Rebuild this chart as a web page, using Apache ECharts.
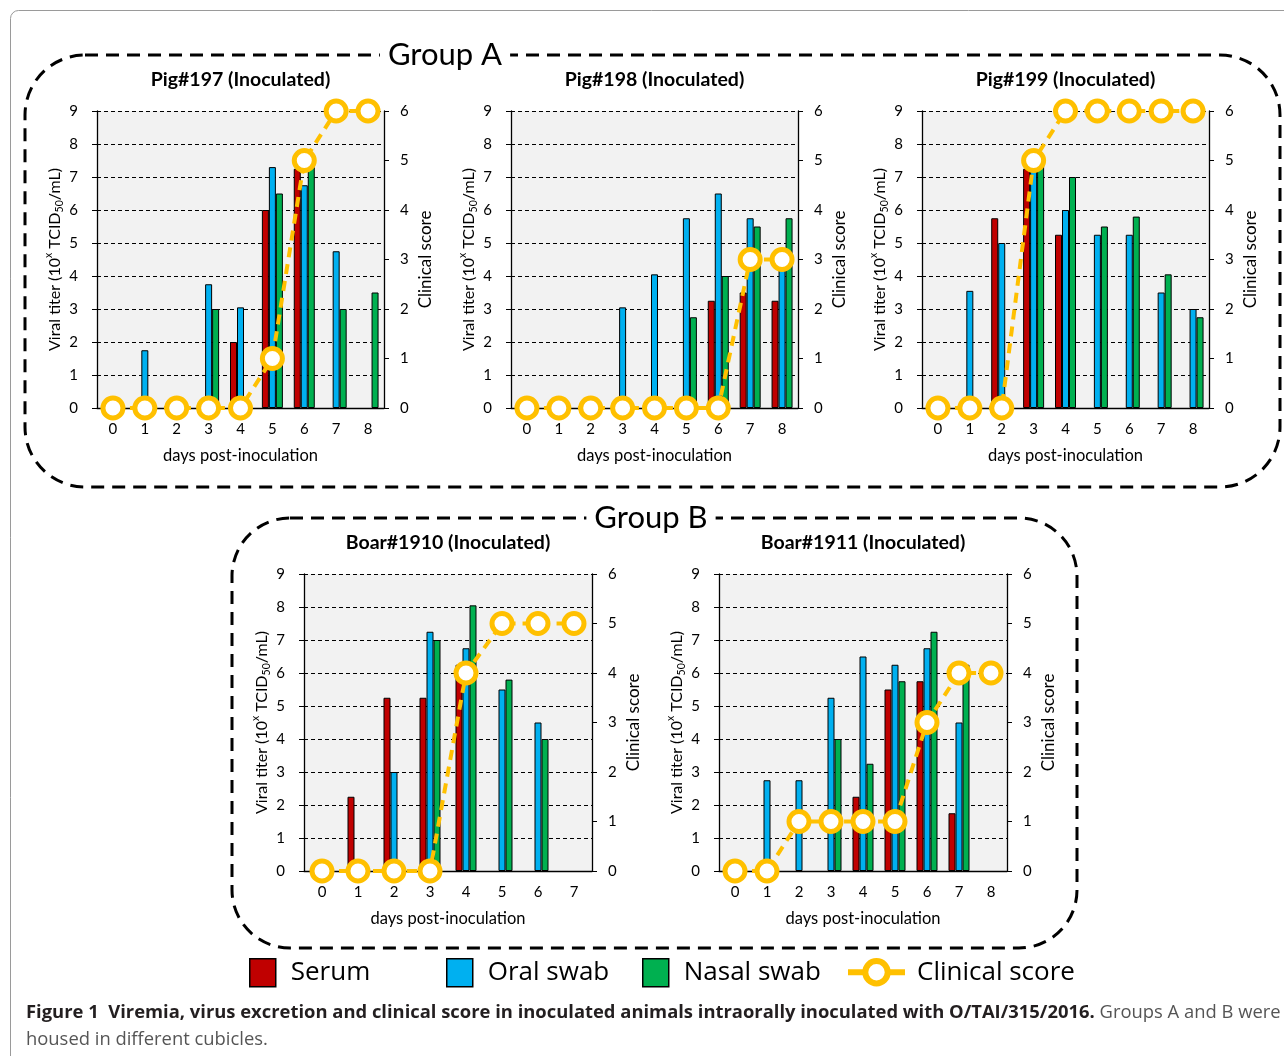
<!DOCTYPE html>
<html>
<head>
<meta charset="utf-8">
<script src="https://cdn.jsdelivr.net/npm/echarts@6/dist/echarts.min.js"></script>
<style>
  html, body { margin: 0; padding: 0; background: #fff; }
  #chart { width: 1284px; height: 1056px; }
</style>
</head>
<body>
<div id="chart"></div>
<script>
// Days post-inoculation (category axes)
const days0to8 = ['0', '1', '2', '3', '4', '5', '6', '7', '8'];
const days0to7 = ['0', '1', '2', '3', '4', '5', '6', '7'];

// Axis ranges: viral titer (log10 TCID50/mL) and clinical score
const titerMax = 9;
const scoreMax = 6;

// Pig#197
const pig197Serum = [0, 0, 0, 0, 2, 6, 7.25, 0, 0];
const pig197Oral  = [0, 1.75, 0, 3.75, 3.05, 7.3, 6.75, 4.75, 0];
const pig197Nasal = [0, 0, 0, 3, 0, 6.5, 7.3, 3, 3.5];
const pig197Score = [0, 0, 0, 0, 0, 1, 5, 6, 6];

// Pig#198
const pig198Serum = [0, 0, 0, 0, 0, 0, 3.25, 3.5, 3.25];
const pig198Oral  = [0, 0, 0, 3.05, 4.05, 5.75, 6.5, 5.75, 4.5];
const pig198Nasal = [0, 0, 0, 0, 0, 2.75, 4, 5.5, 5.75];
const pig198Score = [0, 0, 0, 0, 0, 0, 0, 3, 3];

// Pig#199
const pig199Serum = [0, 0, 5.75, 7.25, 5.25, 0, 0, 0, 0];
const pig199Oral  = [0, 3.55, 5, 7.8, 6, 5.25, 5.25, 3.5, 3];
const pig199Nasal = [0, 0, 0, 7.5, 7, 5.5, 5.8, 4.05, 2.75];
const pig199Score = [0, 0, 0, 5, 6, 6, 6, 6, 6];

// Boar#1910
const boar1910Serum = [0, 2.25, 5.25, 5.25, 6.25, 0, 0, 0];
const boar1910Oral  = [0, 0, 3, 7.25, 6.75, 5.5, 4.5, 0];
const boar1910Nasal = [0, 0, 0, 7, 8.05, 5.8, 4, 0];
const boar1910Score = [0, 0, 0, 0, 4, 5, 5, 5];

// Boar#1911
const boar1911Serum = [0, 0, 0, 0, 2.25, 5.5, 5.75, 1.75, 0];
const boar1911Oral  = [0, 2.75, 2.75, 5.25, 6.5, 6.25, 6.75, 4.5, 0];
const boar1911Nasal = [0, 0, 0, 4, 3.25, 5.75, 7.25, 6.25, 0];
const boar1911Score = [0, 0, 1, 1, 1, 1, 3, 4, 4];

const FONT = 'Lato, "Open Sans", sans-serif';
const FONT_WIDE = '"Open Sans", "Noto Sans", sans-serif';
const C_SERUM = '#C00000', C_ORAL = '#00B0F0', C_NASAL = '#00B050', C_SCORE = '#FFC000';

const panels = [
  { title: 'Pig#197 (Inoculated)', days: days0to8, serum: pig197Serum, oral: pig197Oral, nasal: pig197Nasal, score: pig197Score,
    box: { left: 97, top: 111, width: 287, height: 297 } },
  { title: 'Pig#198 (Inoculated)', days: days0to8, serum: pig198Serum, oral: pig198Oral, nasal: pig198Nasal, score: pig198Score,
    box: { left: 511, top: 111, width: 287, height: 297 } },
  { title: 'Pig#199 (Inoculated)', days: days0to8, serum: pig199Serum, oral: pig199Oral, nasal: pig199Nasal, score: pig199Score,
    box: { left: 922, top: 111, width: 287, height: 297 } },
  { title: 'Boar#1910 (Inoculated)', days: days0to7, serum: boar1910Serum, oral: boar1910Oral, nasal: boar1910Nasal, score: boar1910Score,
    box: { left: 304, top: 574, width: 288, height: 297 } },
  { title: 'Boar#1911 (Inoculated)', days: days0to8, serum: boar1911Serum, oral: boar1911Oral, nasal: boar1911Nasal, score: boar1911Score,
    box: { left: 719, top: 574, width: 288, height: 297 } }
];

const grid = [], xAxis = [], yAxis = [], series = [], graphic = [];
const axisText = { color: '#000', fontFamily: FONT };
const blackLine = { color: '#000', width: 1.3 };
const noBar = v => (v === 0 ? '-' : v);

panels.forEach((p, i) => {
  grid.push(Object.assign({ show: true, backgroundColor: '#F2F2F2', borderWidth: 0 }, p.box));

  xAxis.push({
    gridIndex: i, type: 'category', data: p.days,
    name: 'days post-inoculation', nameLocation: 'middle', nameGap: 39,
    nameTextStyle: Object.assign({ fontSize: 16.5 }, axisText),
    axisLine: { lineStyle: blackLine },
    axisTick: { length: 5, lineStyle: { color: '#000' } },
    axisLabel: Object.assign({ fontSize: 15, margin: 14 }, axisText)
  });

  yAxis.push({
    gridIndex: i, type: 'value', position: 'left', min: 0, max: titerMax, interval: 1,
    name: 'Viral titer (10{sup|x} TCID{sub|50}/mL)', nameLocation: 'middle', nameRotate: 90, nameGap: 30,
    nameTextStyle: Object.assign({
      fontSize: 16, lineHeight: 22,
      rich: {
        sup: { fontSize: 10.5, verticalAlign: 'top', lineHeight: 10, color: '#000', fontFamily: FONT },
        sub: { fontSize: 10.5, verticalAlign: 'bottom', lineHeight: 10, color: '#000', fontFamily: FONT }
      }
    }, axisText),
    axisLine: { show: true, lineStyle: blackLine },
    axisTick: { show: true, length: 5, lineStyle: { color: '#000' } },
    axisLabel: Object.assign({ fontSize: 15, margin: 19 }, axisText),
    splitLine: { show: true, lineStyle: { color: '#000', width: 1, type: [4, 3] } }
  });

  yAxis.push({
    gridIndex: i, type: 'value', position: 'right', min: 0, max: scoreMax, interval: 1,
    name: 'Clinical score', nameLocation: 'middle', nameRotate: 90, nameGap: 33,
    nameTextStyle: Object.assign({ fontSize: 17 }, axisText),
    axisLine: { show: true, lineStyle: blackLine },
    axisTick: { show: true, length: 5, lineStyle: { color: '#000' } },
    axisLabel: Object.assign({ fontSize: 15, margin: 16 }, axisText),
    splitLine: { show: false }
  });

  const barBase = { type: 'bar', xAxisIndex: i, yAxisIndex: 2 * i, barWidth: 7, barGap: '0%' };
  series.push(Object.assign({ name: 'Serum', data: p.serum.map(noBar),
    itemStyle: { color: C_SERUM, borderColor: '#000', borderWidth: 1 } }, barBase));
  series.push(Object.assign({ name: 'Oral swab', data: p.oral.map(noBar),
    itemStyle: { color: C_ORAL, borderColor: '#000', borderWidth: 1 } }, barBase));
  series.push(Object.assign({ name: 'Nasal swab', data: p.nasal.map(noBar),
    itemStyle: { color: C_NASAL, borderColor: '#000', borderWidth: 1 } }, barBase));
  series.push({
    type: 'line', name: 'Clinical score', xAxisIndex: i, yAxisIndex: 2 * i + 1, data: p.score,
    symbol: 'circle', symbolSize: 20, clip: false, z: 5,
    lineStyle: { color: C_SCORE, width: 4, type: [10, 7] },
    itemStyle: { color: '#fff', borderColor: C_SCORE, borderWidth: 5 }
  });

  graphic.push({
    type: 'text', x: p.box.left + p.box.width / 2, y: p.box.top - 31, z: 10,
    style: { text: p.title, font: 'bold 19.5px ' + FONT, fill: '#000', textAlign: 'center', textVerticalAlign: 'middle' }
  });
});

// Frame around the figure
graphic.push({
  type: 'rect', z: 0, silent: true,
  shape: { x: 10.5, y: 10.5, width: 1300, height: 1100, r: 8 },
  style: { fill: 'none', stroke: '#9a9a9a', lineWidth: 1 }
});

// Dashed group enclosures with their headings
const groups = [
  { label: 'Group A', x: 25, y: 55, w: 1255, h: 432, r: 60, cx: 445 },
  { label: 'Group B', x: 232, y: 518, w: 845, h: 430, r: 58, cx: 651 }
];
groups.forEach(g => {
  graphic.push({
    type: 'rect', z: 1, silent: true,
    shape: { x: g.x, y: g.y, width: g.w, height: g.h, r: g.r },
    style: { fill: 'none', stroke: '#000', lineWidth: 3, lineDash: [13, 8] }
  });
  graphic.push({
    type: 'text', x: g.cx, y: g.y, z: 2,
    style: {
      text: g.label, font: '31px ' + FONT, fill: '#000', textAlign: 'center', textVerticalAlign: 'middle',
      backgroundColor: '#fff', padding: [0, 8]
    }
  });
});

// Caption
graphic.push({
  type: 'text', left: 26, top: 1004, z: 2,
  style: {
    text: '{b|Figure 1  Viremia, virus excretion and clinical score in inoculated animals intraorally inoculated with O/TAI/315/2016.}{r| Groups A and B were}',
    rich: {
      b: { font: 'bold 18.4px ' + FONT_WIDE, fill: '#231F20' },
      r: { font: '18.4px ' + FONT_WIDE, fill: '#555' }
    }
  }
});
graphic.push({
  type: 'text', left: 26, top: 1031, z: 2,
  style: { text: 'housed in different cubicles.', font: '18.4px ' + FONT_WIDE, fill: '#555' }
});

const legendText = { fontSize: 26, fontFamily: FONT_WIDE, color: '#000', padding: [0, 0, 0, 10] };
const barLegend = (name, left) => ({
  data: [{ name: name, icon: 'rect' }], left: left, top: 953, itemWidth: 26, itemHeight: 28,
  itemStyle: { borderColor: '#000', borderWidth: 1.5 }, textStyle: legendText, selectedMode: false
});

const option = {
  animation: false,
  backgroundColor: '#fff',
  grid: grid,
  xAxis: xAxis,
  yAxis: yAxis,
  series: series,
  graphic: graphic,
  legend: [
    barLegend('Serum', 244),
    barLegend('Oral swab', 441),
    barLegend('Nasal swab', 637),
    {
      data: ['Clinical score'], left: 840, top: 953, itemWidth: 57, itemHeight: 28,
      lineStyle: { type: 'solid', width: 6, color: C_SCORE },
      itemStyle: { color: '#fff', borderColor: C_SCORE, borderWidth: 6 },
      textStyle: Object.assign({}, legendText, { padding: [0, 0, 0, 7] }), selectedMode: false
    }
  ]
};

const chart = echarts.init(document.getElementById('chart'), null, { renderer: 'canvas' });
chart.setOption(option);
</script>
</body>
</html>
